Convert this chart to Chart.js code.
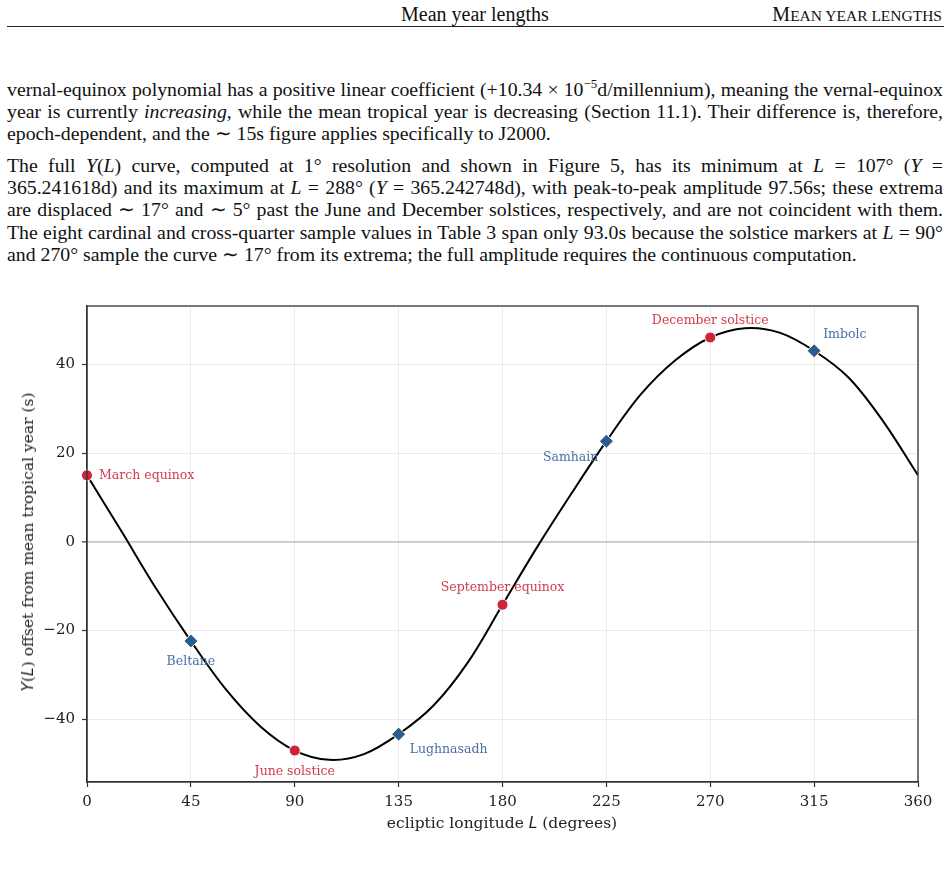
<!DOCTYPE html>
<html>
<head>
<meta charset="utf-8">
<script src="https://cdn.jsdelivr.net/npm/chart.js@4/dist/chart.umd.min.js"></script>
<style>
  html, body { margin: 0; padding: 0; background: #fff; }
  body { width: 952px; height: 887px; position: relative; overflow: hidden;
         font-family: "Liberation Serif", "Times New Roman", serif; color: #111; }
  .hdr { position: absolute; top: 2px; font-size: 20px; line-height: 24px; white-space: nowrap; }
  .sc { font-size: 15.5px; }
  .rule { position: absolute; left: 7px; width: 937px; top: 26px; height: 0; border-top: 1.2px solid #222; }
  .para { position: absolute; left: 7px; width: 936px; font-size: 19.8px; }
  .ln { height: 22.05px; line-height: 22.05px; white-space: nowrap; text-align: justify; text-align-last: justify; }
  .ln.last { text-align-last: left; }
  sup { font-size: 13px; line-height: 0; vertical-align: 8px; }
  #wrap { position: absolute; left: 0; top: 290px; width: 952px; height: 560px; }
  .ax { position: absolute; font-family: "DejaVu Serif", serif; font-size: 15.5px; color: #222; white-space: nowrap; }
  .m { font-family: "DejaVu Sans", sans-serif; font-style: italic; }
</style>
</head>
<body>
<div class="hdr" style="left:401px;">Mean year lengths</div>
<div class="hdr" style="right:10px;">M<span class="sc">EAN YEAR LENGTHS</span></div>
<div class="rule"></div>

<div class="para" style="top:78.4px;">
  <div class="ln">vernal-equinox polynomial has a positive linear coefficient (+10.34 × 10<sup>−5</sup>d/millennium), meaning the vernal-equinox</div>
  <div class="ln">year is currently <i>increasing</i>, while the mean tropical year is decreasing (Section 11.1). Their difference is, therefore,</div>
  <div class="ln last">epoch-dependent, and the ∼ 15s figure applies specifically to J2000.</div>
</div>
<div class="para" style="top:154.4px;">
  <div class="ln">The full <i>Y</i>(<i>L</i>) curve, computed at 1° resolution and shown in Figure 5, has its minimum at <i>L</i> = 107° (<i>Y</i> =</div>
  <div class="ln">365.241618d) and its maximum at <i>L</i> = 288° (<i>Y</i> = 365.242748d), with peak-to-peak amplitude 97.56s; these extrema</div>
  <div class="ln">are displaced ∼ 17° and ∼ 5° past the June and December solstices, respectively, and are not coincident with them.</div>
  <div class="ln">The eight cardinal and cross-quarter sample values in Table 3 span only 93.0s because the solstice markers at <i>L</i> = 90°</div>
  <div class="ln last">and 270° sample the curve ∼ 17° from its extrema; the full amplitude requires the continuous computation.</div>
</div>

<div id="wrap"><canvas id="c" width="952" height="560"></canvas></div>
<div class="ax" style="left:502px; top:823px; transform: translate(-50%,-50%);">ecliptic longitude <span class="m">L</span> (degrees)</div>
<div class="ax" style="left:28px; top:542px; transform: translate(-50%,-50%) rotate(-90deg);"><span class="m">Y</span>(<span class="m">L</span>) offset from mean tropical year (s)</div>

<script>
// Y(L) curve, seconds offset from the mean tropical year, every 15 degrees
const curveL = [0, 15, 30, 45, 60, 75, 90, 105, 120, 135, 150, 165, 180, 195, 210, 225, 240, 255, 270, 285, 300, 315, 330, 345, 360];
const curveY = [15.0, 2.3, -10.6, -22.4, -33.2, -41.6, -47.1, -49.2, -47.9, -43.4, -37.0, -27.2, -14.2, -1.2, 11.0, 22.7, 33.3, 41.0, 46.1, 48.2, 47.2, 43.1, 37.0, 27.1, 15.0];

// cardinal points (equinoxes / solstices)
const cardinalNames = ['March equinox', 'June solstice', 'September equinox', 'December solstice'];
const cardinalL = [0, 90, 180, 270];
const cardinalY = [15.0, -47.1, -14.2, 46.1];

// cross-quarter days
const crossNames = ['Beltane', 'Lughnasadh', 'Samhain', 'Imbolc'];
const crossL = [45, 135, 225, 315];
const crossY = [-22.4, -43.4, 22.7, 43.1];

const xTicks = [0, 45, 90, 135, 180, 225, 270, 315, 360];
const yTicks = [-40, -20, 0, 20, 40];

// label placement relative to each marker (pixels)
const cardinalPlace = [
    { dx: 12, dy: 0, align: 'left' },
    { dx: 0, dy: 21, align: 'center' },
    { dx: 0, dy: -17, align: 'center' },
    { dx: 0, dy: -17, align: 'center' }
];
const crossPlace = [
    { dx: 0, dy: 21, align: 'center' },
    { dx: 11, dy: 16, align: 'left' },
    { dx: -8, dy: 17, align: 'right' },
    { dx: 9, dy: -16, align: 'left' }
];

const RED = '#c9243c', RED_TXT = '#d03a50';
const BLUE = '#2c5b8e', BLUE_TXT = '#4a70a3';
const SERIF = '"DejaVu Serif", serif';

const pts = (xs, ys) => xs.map((x, i) => ({ x: x, y: ys[i] }));

const boxPlugin = {
    id: 'box',
    afterDraw(chart) {
        const a = chart.chartArea, ctx = chart.ctx;
        ctx.save();
        ctx.strokeStyle = '#333';
        ctx.lineWidth = 1.3;
        ctx.strokeRect(a.left, a.top, a.right - a.left, a.bottom - a.top);
        ctx.restore();
    }
};

const labelPlugin = {
    id: 'labels',
    afterDatasetsDraw(chart) {
        const ctx = chart.ctx, xs = chart.scales.x, ys = chart.scales.y;
        ctx.save();
        ctx.font = '12.5px ' + SERIF;
        ctx.textBaseline = 'middle';
        const put = (names, L, Y, place, color) => {
            names.forEach((n, i) => {
                ctx.fillStyle = color;
                ctx.textAlign = place[i].align;
                ctx.fillText(n, xs.getPixelForValue(L[i]) + place[i].dx, ys.getPixelForValue(Y[i]) + place[i].dy);
            });
        };
        put(cardinalNames, cardinalL, cardinalY, cardinalPlace, RED_TXT);
        put(crossNames, crossL, crossY, crossPlace, BLUE_TXT);
        ctx.restore();
    }
};

new Chart(document.getElementById('c'), {
    type: 'line',
    data: {
        datasets: [
            {
                data: pts(cardinalL, cardinalY),
                showLine: false,
                pointStyle: 'circle',
                pointRadius: 5.5,
                backgroundColor: RED,
                borderColor: '#fff',
                pointBorderWidth: 1,
                clip: false,
                order: 1
            },
            {
                data: pts(crossL, crossY),
                showLine: false,
                pointStyle: 'rectRot',
                pointRadius: 7,
                backgroundColor: BLUE,
                borderColor: '#fff',
                pointBorderWidth: 1,
                clip: false,
                order: 2
            },
            {
                data: pts(curveL, curveY),
                borderColor: '#000',
                borderWidth: 2,
                pointRadius: 0,
                tension: 0.35,
                order: 3
            }
        ]
    },
    options: {
        responsive: false,
        animation: false,
        events: [],
        layout: { padding: { top: 14, right: 34, left: 0, bottom: 0 } },
        plugins: { legend: { display: false }, tooltip: { enabled: false } },
        scales: {
            x: {
                type: 'linear',
                min: 0,
                max: 360,
                afterBuildTicks: (s) => { s.ticks = xTicks.map(v => ({ value: v })); },
                afterFit: (s) => { s.height = 68; },
                ticks: { font: { family: SERIF, size: 15 }, color: '#222', padding: 6, maxRotation: 0 },
                grid: { color: '#ebebeb', lineWidth: 1, tickColor: '#333', tickLength: 5, tickWidth: 1.2 },
                border: { color: '#333', width: 1.3 }
            },
            y: {
                min: -54.2,
                max: 53.2,
                afterBuildTicks: (s) => { s.ticks = yTicks.map(v => ({ value: v })); },
                afterFit: (s) => { s.width = 87; },
                ticks: {
                    font: { family: SERIF, size: 15 },
                    color: '#222',
                    padding: 7,
                    callback: (v) => v < 0 ? '\u2212' + Math.abs(v) : String(v)
                },
                grid: {
                    color: (c) => c.tick && c.tick.value === 0 ? '#c8c8c8' : '#ebebeb',
                    lineWidth: (c) => c.tick && c.tick.value === 0 ? 1.8 : 1,
                    tickColor: '#333', tickLength: 5, tickWidth: 1.2
                },
                border: { color: '#333', width: 1.3 }
            }
        }
    },
    plugins: [boxPlugin, labelPlugin]
});
</script>
</body>
</html>
